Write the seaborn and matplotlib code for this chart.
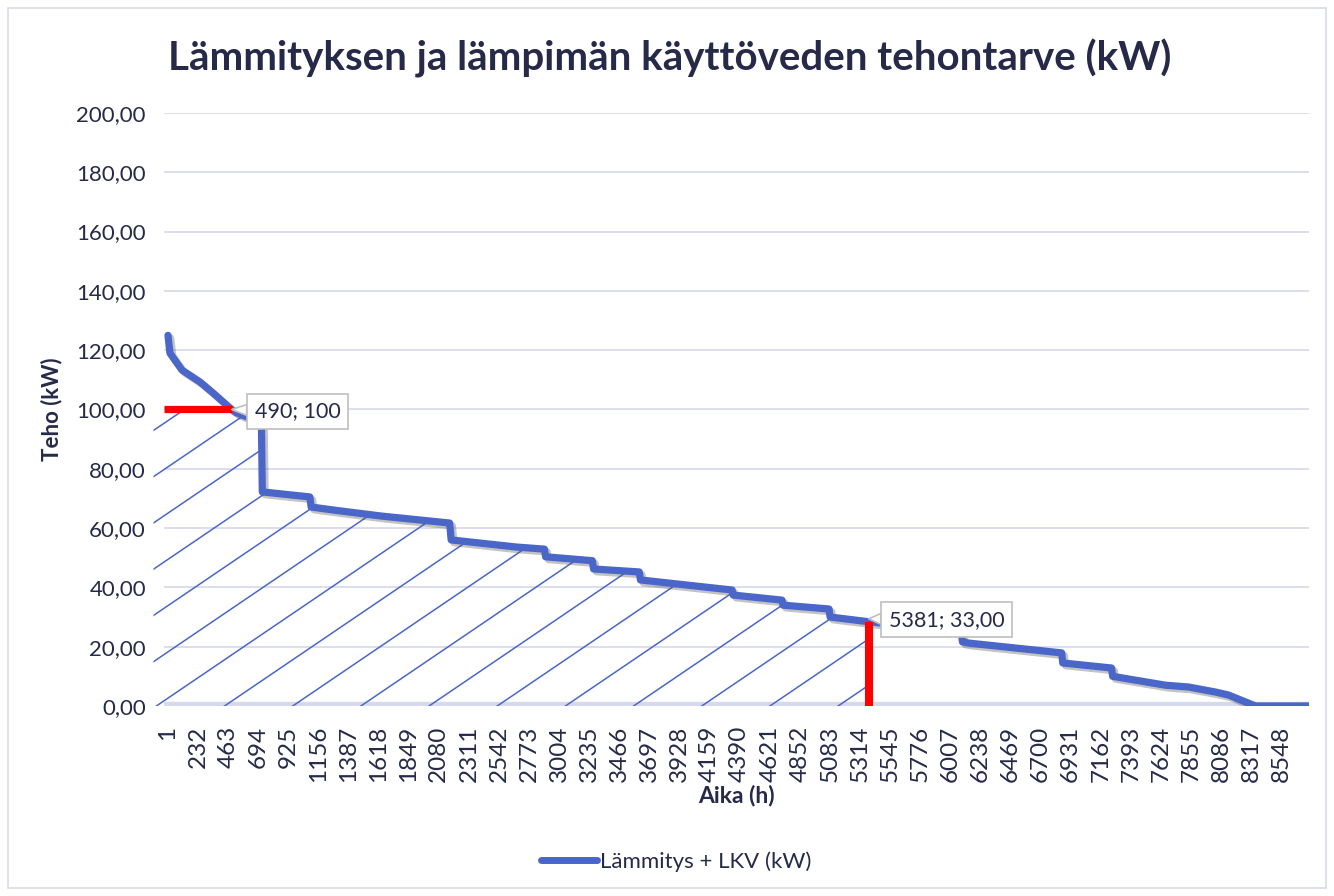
import numpy as np
import pandas as pd
import matplotlib
matplotlib.use("Agg")
import matplotlib.pyplot as plt
import matplotlib.patheffects as pe
from matplotlib.patches import Polygon, Rectangle
from matplotlib.ticker import FuncFormatter
import seaborn as sns

# duration curve breakpoints (hour, kW)
hours = [1, 16, 108, 246, 346, 490, 530, 630, 718, 725,
         1090, 1100, 1320, 1649, 2163, 2175, 2676, 2891, 2900, 3259,
         3268, 3619, 3628, 4332, 4340, 4715, 4722, 5076, 5084, 5381,
         6090, 6100, 6149, 6862, 6870, 7245, 7253, 7659, 7835, 8042,
         8142, 8349, 8760]
power = [125.0, 119.0, 113.3, 109.3, 105.6, 100.0, 98.8, 97.1, 96.5, 72.2,
         70.5, 67.1, 65.8, 64.0, 61.7, 56.0, 53.6, 52.9, 50.3, 49.0,
         46.2, 45.2, 42.5, 39.1, 37.4, 35.7, 34.0, 32.7, 30.0, 28.4,
         25.2, 21.6, 21.2, 17.9, 14.5, 12.8, 10.0, 7.0, 6.4, 4.7,
         3.7, 0.0, 0.0]

cap_hour, cap_kw = 490, 100.0
limit_hour, limit_kw = 5381, 28.4
label_cap = "490; 100"
label_limit = "5381; 33,00"

x_ticks = list(range(1, 8761, 231))
y_ticks = list(range(0, 201, 20))

title = "Lämmityksen ja lämpimän käyttöveden tehontarve (kW)"
series_name = "Lämmitys + LKV (kW)"

sns.set_style("white")
plt.rcParams["font.family"] = ["Lato", "DejaVu Sans"]

TXT = "#262a48"
BLUE = "#4a66c8"

df = pd.DataFrame({"Aika": hours, "Teho": power})

fig = plt.figure(figsize=(13.34, 8.96), dpi=100)
ax = fig.add_axes([0.1229, 0.2121, 0.8583, 0.6618])
xmin, xmax = -30, 8760
ax.set_xlim(xmin, xmax)
ax.set_ylim(0, 200)

# hatched area (hand drawn diagonal lines in the original)
verts = [(-110, 0), (-110, cap_kw)]
verts += [(h, min(p, cap_kw)) for h, p in zip(hours, power) if cap_hour <= h <= limit_hour]
verts += [(limit_hour, 0)]
clip = Polygon(verts, closed=True, transform=ax.transData)
k = 1.31
xs = np.array([-0.05, 1.0])
for b in np.arange(0.4766, -1.3, -0.078):
    ln, = ax.plot(xs, b + k * xs, transform=ax.transAxes, color=BLUE, lw=1.1, zorder=2)
    ln.set_clip_path(clip)
    ln.set_clip_box(None)

sns.lineplot(data=df, x="Aika", y="Teho", ax=ax, color=BLUE, lw=5.2,
             estimator=None, sort=False, label=series_name, zorder=3)
curve = ax.lines[-1]
curve.set_solid_capstyle("round")
curve.set_solid_joinstyle("round")
curve.set_path_effects([pe.SimpleLineShadow(offset=(2, -2), shadow_color="#555555", alpha=0.35),
                        pe.Normal()])
ax.get_legend().remove()

# red limit markers
ax.plot([xmin, cap_hour], [cap_kw, cap_kw], color="red", lw=5.2,
        solid_capstyle="butt", zorder=4)
ax.plot([limit_hour, limit_hour], [0, limit_kw], color="red", lw=5.8,
        solid_capstyle="butt", zorder=4)

box = dict(boxstyle="square,pad=0.35", fc="white", ec="#bfbfbf", lw=1.2)
arrow = dict(arrowstyle="wedge,tail_width=0.5,shrink_factor=0.5", fc="white",
             ec="#bfbfbf", lw=1.2, shrinkA=0, shrinkB=0)
ax.annotate(label_cap, xy=(cap_hour, cap_kw), xytext=(66, -2), textcoords="offset pixels",
            ha="center", va="center", fontsize=15.5, color=TXT, bbox=box,
            arrowprops=arrow, zorder=6)
ax.annotate(label_limit, xy=(limit_hour, limit_kw + 1), xytext=(78, -1),
            textcoords="offset pixels", ha="center", va="center", fontsize=15.5,
            color=TXT, bbox=box, arrowprops=arrow, zorder=6)

# axes styling
ax.axhline(0, color="#d6d8eb", lw=6, zorder=1.5)
ax.set_yticks(y_ticks)
ax.yaxis.set_major_formatter(FuncFormatter(lambda v, _: f"{v:.2f}".replace(".", ",")))
ax.set_xticks(x_ticks)
ax.set_xticklabels([str(t) for t in x_ticks], rotation=90)
ax.tick_params(axis="both", length=0, labelcolor=TXT)
ax.tick_params(axis="y", pad=13, labelsize=16)
ax.tick_params(axis="x", pad=14, labelsize=17.5)
ax.yaxis.grid(True, color="#d9dbee", lw=1.3)
ax.xaxis.grid(False)
ax.set_axisbelow(True)
for s in ax.spines.values():
    s.set_visible(False)

ax.set_ylabel("Teho (kW)", fontsize=16, fontweight="bold", color=TXT, labelpad=10)
ax.set_xlabel("Aika (h)", fontsize=16.5, fontweight="bold", color=TXT)
ax.xaxis.set_label_coords(0.5, -0.133)

fig.text(0.502, 0.935, title, ha="center", va="center", fontsize=29,
         fontweight="bold", color=TXT)

handle = plt.Line2D([], [], color=BLUE, lw=5, solid_capstyle="round")
fig.legend([handle], [series_name], loc="center", bbox_to_anchor=(0.507, 0.038),
           frameon=False, fontsize=16, handlelength=2.5, handletextpad=0.15,
           labelcolor=TXT)

fig.patches.append(Rectangle((0.006, 0.009), 0.988, 0.982, transform=fig.transFigure,
                             fill=False, ec="#d9dbe6", lw=1.2))

fig.savefig("out.png", dpi=100)
